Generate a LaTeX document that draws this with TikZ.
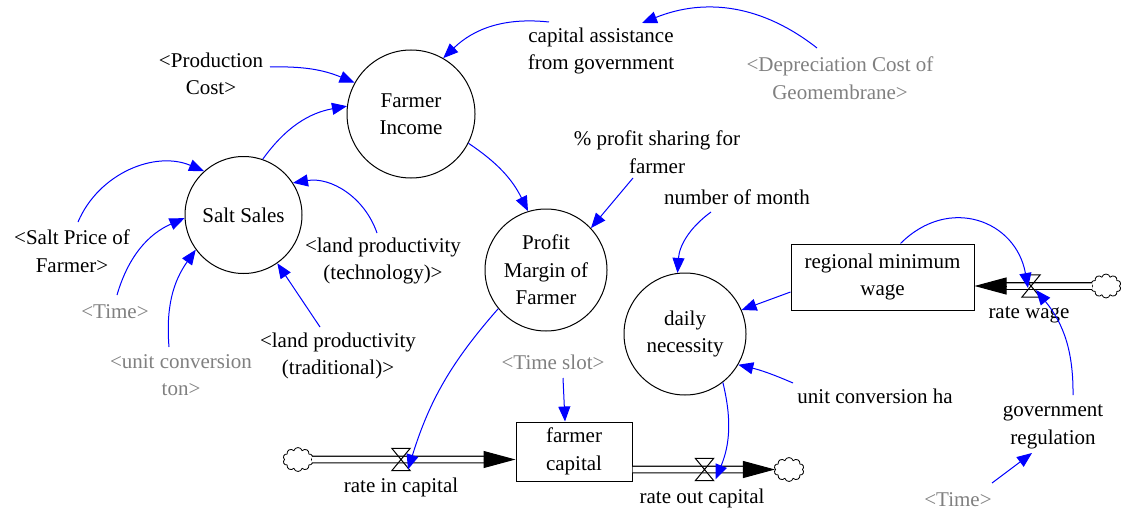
\documentclass[tikz,border=0pt]{standalone}
\usepackage{fontspec}
\setmainfont{Liberation Serif}
\newfontfamily\serifx{Liberation Serif}
\usetikzlibrary{arrows.meta,shapes.symbols}
\definecolor{lnk}{RGB}{0,0,255}
\definecolor{shd}{RGB}{128,128,128}
\begin{document}
\begin{tikzpicture}[x=1pt,y=1pt,
  lbl/.style={font=\serifx\fontsize{21}{27.5}\selectfont, align=center, inner sep=0pt, text=black},
  shadowlbl/.style={lbl, text=shd},
  auxvar/.style={lbl, circle, draw, line width=1pt},
  stock/.style={lbl, rectangle, draw, line width=1pt},
  link/.style={draw=lnk, line width=1pt, -{Triangle[length=15pt,width=12pt]}},
  pipe/.style={double, double distance=5.5pt, line width=1.1pt},
  pipetip/.style={line width=1pt, -{Triangle[length=32pt,width=17pt]}},
  cloudnode/.style={cloud, cloud puffs=10, aspect=1.25, draw, line width=0.8pt, minimum width=30pt, minimum height=24pt, inner sep=0pt},
  valve/.style={inner sep=0pt, minimum width=18pt, minimum height=22pt},
  valveshape/.style={draw, line width=1pt}
]
\useasboundingbox (0,0) rectangle (1121,-511);

% auxiliaries and stocks
\node[auxvar, minimum size=128pt] (fi) at (411,-114) {Farmer\\Income};
\node[auxvar, minimum size=117pt] (ss) at (243.5,-215) {Salt Sales};
\node[auxvar, minimum size=122pt] (pm) at (546,-270) {Profit\\Margin of\\Farmer};
\node[auxvar, minimum size=122pt] (dn) at (685,-334) {daily\\necessity};
\node[stock, minimum width=183pt, minimum height=66pt] (rmw) at (882.5,-277) {regional minimum\\wage};
\node[stock, minimum width=116pt, minimum height=59pt] (fc) at (574,-451.5) {farmer\\capital};

% labels
\node[lbl] (pc) at (211,-74) {<Production\\Cost>};
\node[lbl] (ca) at (601,-51) {capital assistance\\from government};
\node[shadowlbl] (dc) at (840,-78) {<Depreciation Cost of\\Geomembrane>};
\node[lbl] (ps) at (657,-152) {\% profit sharing for\\farmer};
\node[lbl] (nm) at (737,-197) {number of month};
\node[lbl] (sp) at (72,-251) {<Salt Price of\\Farmer>};
\node[shadowlbl] (t1) at (115,-312) {<Time>};
\node[shadowlbl] (uct) at (181,-375) {<unit conversion\\ton>};
\node[lbl] (lpt) at (383,-261) {<land productivity\\(technology)>};
\node[lbl] (lpd) at (338,-356) {<land productivity\\(traditional)>};
\node[shadowlbl] (ts) at (553,-362) {<Time slot>};
\node[lbl] (uch) at (875,-396) {unit conversion ha};
\node[lbl] (gr) at (1053,-427) {government\\regulation};
\node[shadowlbl] (t2) at (958,-500) {<Time>};

% valves and clouds
\node[valve] (v1) at (401,-459.5) {};
\node[valve] (v2) at (704.5,-469.5) {};
\node[valve] (v3) at (1031,-286) {};
\node[cloudnode] (c1) at (298,-459.5) {};
\node[cloudnode] (c2) at (789,-469.5) {};
\node[cloudnode] (c3) at (1106,-286) {};
\node[lbl] (l1) at (401,-487) {rate in capital};
\node[lbl] (l2) at (702,-498) {rate out capital};
\node[lbl] (l3) at (1029,-315) {rate wage};

% pipes
\coordinate (p1e) at (fc.west |- v1.center);
\draw[pipe] (c1.east) -- ([xshift=-31pt]p1e);
\draw[pipetip] ([xshift=-32pt]p1e) -- (p1e);
\coordinate (p2s) at (fc.east |- v2.center);
\draw[pipe] (p2s) -- ([xshift=-31pt]c2.west);
\draw[pipetip] ([xshift=-32pt]c2.west) -- (c2.west);
\coordinate (p3e) at (rmw.east |- v3.center);
\draw[pipe] (c3.west) -- ([xshift=31pt]p3e);
\draw[pipetip] ([xshift=32pt]p3e) -- (p3e);

\draw[valveshape] (v1.north west) -- (v1.north east) -- (v1.south west) -- (v1.south east) -- cycle;
\draw[valveshape] (v2.north west) -- (v2.north east) -- (v2.south west) -- (v2.south east) -- cycle;
\draw[valveshape] (v3.north west) -- (v3.north east) -- (v3.south west) -- (v3.south east) -- cycle;

% links
\draw[link] ([shift={(59,7)}]pc.center) to[bend left=12] (fi.151);
\draw[link] ([shift={(-52,29)}]ca.center) to[bend right=25] (fi.60);
\draw[link] ([shift={(-23,30)}]dc.center) to[bend right=30] ([shift={(41,28)}]ca.center);
\draw[link] (ss.71) to[bend left=22] (fi.173);
\draw[link] (fi.-27) to[bend left=15] (pm.107);
\draw[link] ([shift={(-24,-26)}]ps.center) -- (pm.43);
\draw[link] ([shift={(-26,-15)}]nm.center) to[bend right=25] (dn.97);
\draw[link] ([yshift=-15pt]rmw.west) -- (dn.23);
\draw[link] ([shift={(-82,13)}]uch.center) to[bend right=5] (dn.-30);
\draw[link] (dn.-52) to[bend left=18] ([shift={(11,-10)}]v2.center);
\draw[link] ([xshift=18pt]rmw.north) to[out=45,in=100,looseness=1.3] ([shift={(-3,-2)}]v3.center);
\draw[link] ([shift={(20,32)}]gr.center) to[bend right=20] ([shift={(5,-4)}]v3.center);
\draw[link] ([shift={(34,17)}]t2.center) -- ([shift={(-21,-26)}]gr.center);
\draw[link] ([shift={(6,29)}]sp.center) to[bend left=45] (ss.132);
\draw[link] ([shift={(2,17)}]t1.center) to[bend left=25] (ss.183);
\draw[link] ([shift={(-12,28)}]uct.center) to[bend left=20] (ss.216);
\draw[link] ([shift={(-6,28)}]lpt.center) to[bend right=40] (ss.33);
\draw[link] ([shift={(-18,29)}]lpd.center) -- (ss.-55);
\draw[link] (pm.219) to[bend right=12] ([shift={(7,-10)}]v1.center);
\draw[link] ([shift={(10,-16)}]ts.center) -- ([xshift=-9pt]fc.north);
\end{tikzpicture}
\end{document}
